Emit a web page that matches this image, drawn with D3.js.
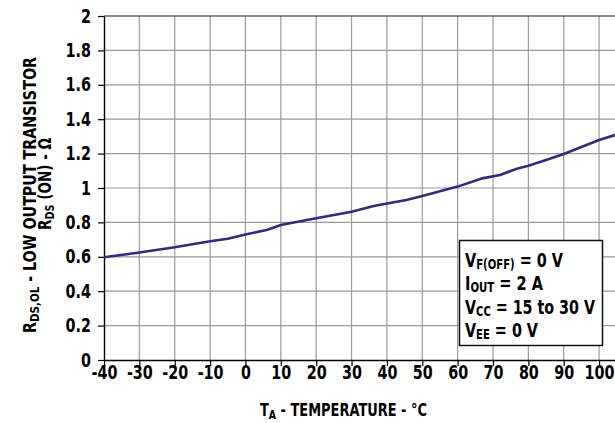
<!DOCTYPE html>
<html>
<head>
<meta charset="utf-8">
<script src="https://cdn.jsdelivr.net/npm/d3@7"></script>
<style>
  body { margin: 0; background: #fff; }
  text { font-family: "DejaVu Sans Condensed", "DejaVu Sans", sans-serif; font-stretch: condensed; font-weight: bold; fill: #000; }
</style>
</head>
<body>
<div id="chart"></div>
<script>
// data
var temps = [-40, -30, -20, -10, -5, 0, 6, 10, 20, 30, 36.6, 45.5, 50, 60, 67, 72, 77, 80, 85, 90, 100, 104.5];
var rds = [0.597, 0.625, 0.655, 0.69, 0.705, 0.73, 0.756, 0.785, 0.824, 0.862, 0.897, 0.93, 0.953, 1.008, 1.056, 1.076, 1.114, 1.13, 1.163, 1.198, 1.279, 1.308];
var xTicks = [-40, -30, -20, -10, 0, 10, 20, 30, 40, 50, 60, 70, 80, 90, 100];
var yTicks = [0, 0.2, 0.4, 0.6, 0.8, 1, 1.2, 1.4, 1.6, 1.8, 2];

var width = 615, height = 423;
var pLeft = 104, pTop = 16, pRight = 615, pBottom = 360;
var squeeze = 0.84; // narrow the labels like the condensed face in the original

var svg = d3.select("#chart")
    .append("svg")
    .attr("width", width)
    .attr("height", height);

var x = d3.scaleLinear().domain([-40, 104.5]).range([pLeft, pRight]);
var y = d3.scaleLinear().domain([0, 2]).range([pBottom, pTop]);

// grid
svg.append("g")
    .selectAll("line")
    .data(xTicks.slice(1))
    .enter()
    .append("line")
    .attr("x1", d => x(d)).attr("x2", d => x(d))
    .attr("y1", pTop).attr("y2", pBottom)
    .attr("stroke", "#9a9a9a")
    .attr("stroke-width", 1.2);

svg.append("g")
    .selectAll("line")
    .data(yTicks.slice(1, -1))
    .enter()
    .append("line")
    .attr("x1", pLeft).attr("x2", pRight)
    .attr("y1", d => y(d)).attr("y2", d => y(d))
    .attr("stroke", "#9a9a9a")
    .attr("stroke-width", 1.2);

// top border
svg.append("line")
    .attr("x1", pLeft).attr("x2", pRight)
    .attr("y1", y(2)).attr("y2", y(2))
    .attr("stroke", "#222").attr("stroke-width", 1.2);

// axes
var xAxis = svg.append("g")
    .attr("transform", "translate(0," + pBottom + ")")
    .call(d3.axisBottom(x).tickValues(xTicks).tickSize(6).tickPadding(0).tickSizeOuter(0)
        .tickFormat(d => String(d)));
var yAxis = svg.append("g")
    .attr("transform", "translate(" + pLeft + ",0)")
    .call(d3.axisLeft(y).tickValues(yTicks).tickSize(6).tickPadding(7).tickSizeOuter(0)
        .tickFormat(d => String(+d.toFixed(1))));

[xAxis, yAxis].forEach(a => {
    a.selectAll("text").style("font-size", "19px").attr("fill", "#000")
        .attr("transform", "scale(" + squeeze + ",1)");
    a.selectAll("line").attr("stroke", "#000").attr("stroke-width", 1.2);
    a.select(".domain").attr("stroke", "#000").attr("stroke-width", 1.4);
});
yAxis.selectAll("text").attr("x", -13 / squeeze);

// curve
svg.append("defs").append("clipPath").attr("id", "clip")
    .append("rect").attr("x", pLeft).attr("y", pTop).attr("width", pRight - pLeft).attr("height", pBottom - pTop);

var line = d3.line()
    .x((d, i) => x(temps[i]))
    .y(d => y(d));

svg.append("path")
    .datum(rds)
    .attr("clip-path", "url(#clip)")
    .attr("d", line)
    .attr("fill", "none")
    .attr("stroke", "#302c7d")
    .attr("stroke-width", 2.6);

// legend box
var lg = svg.append("g");
lg.append("rect")
    .attr("x", 459.5).attr("y", 240.5).attr("width", 143).attr("height", 105)
    .attr("fill", "#fff").attr("stroke", "#111").attr("stroke-width", 1.5);

var legendLines = [
    ["V", "F(OFF)", " = 0 V", 98],
    ["I", "OUT", " = 2 A", 78],
    ["V", "CC", " = 15 to 30 V", 130],
    ["V", "EE", " = 0 V", 73]
];
legendLines.forEach((l, i) => {
    var t = lg.append("text")
        .attr("x", 465)
        .attr("y", 266.5 + i * 23.5)
        .attr("textLength", l[3])
        .attr("lengthAdjust", "spacingAndGlyphs")
        .style("font-size", "20px");
    t.append("tspan").text(l[0]);
    t.append("tspan").attr("dy", 2).style("font-size", "14px").text(l[1]);
    t.append("tspan").attr("dy", -2).text(l[2]);
});

// axis titles
var xt = svg.append("text")
    .attr("x", 260).attr("y", 416)
    .attr("textLength", 167)
    .attr("lengthAdjust", "spacingAndGlyphs")
    .style("font-size", "18px");
xt.append("tspan").text("T");
xt.append("tspan").attr("dy", 3).style("font-size", "13px").text("A");
xt.append("tspan").attr("dy", -3).text(" - TEMPERATURE - °C");

var yt1 = svg.append("text")
    .attr("transform", "translate(36,333) rotate(-90)")
    .attr("textLength", 276)
    .attr("lengthAdjust", "spacingAndGlyphs")
    .style("font-size", "18px");
yt1.append("tspan").text("R");
yt1.append("tspan").attr("dy", 3).style("font-size", "13px").text("DS,OL");
yt1.append("tspan").attr("dy", -3).text(" - LOW OUTPUT TRANSISTOR");

var yt2 = svg.append("text")
    .attr("transform", "translate(51,230) rotate(-90)")
    .attr("textLength", 92)
    .attr("lengthAdjust", "spacingAndGlyphs")
    .style("font-size", "18px");
yt2.append("tspan").text("R");
yt2.append("tspan").attr("dy", 3).style("font-size", "13px").text("DS");
yt2.append("tspan").attr("dy", -3).text(" (ON) - Ω");
</script>
</body>
</html>
